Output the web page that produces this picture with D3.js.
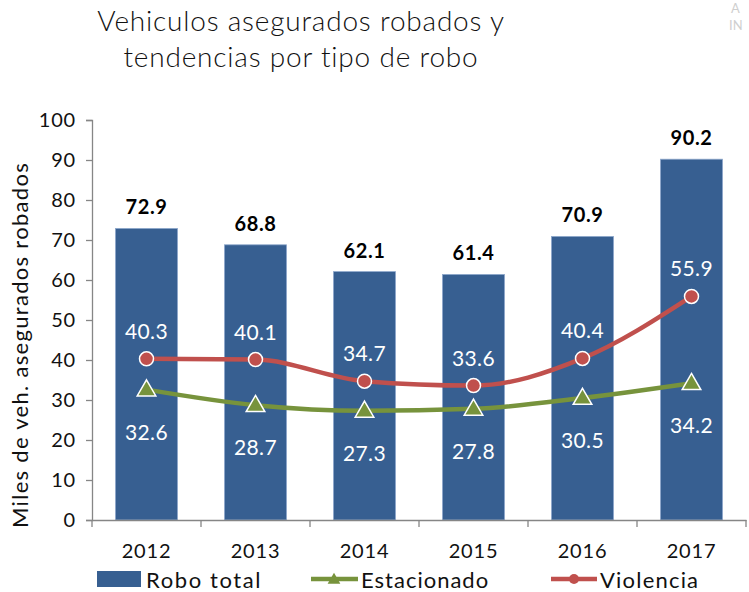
<!DOCTYPE html>
<html><head><meta charset="utf-8">
<script src="https://cdn.jsdelivr.net/npm/d3@7"></script>
<style>
html,body{margin:0;padding:0;background:#fff;overflow:hidden;}
svg text{font-family:"Lato","Noto Sans",sans-serif;}
</style></head>
<body><svg id="c" width="749" height="592"></svg>
<script>
const years = ["2012","2013","2014","2015","2016","2017"];
const roboTotal = [72.9, 68.8, 62.1, 61.4, 70.9, 90.2];
const estacionado = [32.6, 28.7, 27.3, 27.8, 30.5, 34.2];
const violencia = [40.3, 40.1, 34.7, 33.6, 40.4, 55.9];
const yTicks = [0,10,20,30,40,50,60,70,80,90,100];
const titleLines = ["Vehiculos asegurados robados y", "tendencias por tipo de robo"];
const yTitle = "Miles de veh. asegurados robados";
const legendNames = ["Robo total", "Estacionado", "Violencia"];

const C = {bar:"#375F91", green:"#77933C", red:"#C0504D", axis:"#868686"};
const svg = d3.select("#c");
const m = {left:92, right:746, top:120, bottom:520};
const x = d3.scaleBand().domain(years).range([m.left, m.right]).paddingInner(0.43).paddingOuter(0.215);
const xc = d => x(d) + x.bandwidth()/2;
const y = d3.scaleLinear().domain([0,100]).range([m.bottom, m.top]);

// title
svg.append("g").selectAll("text").data(titleLines).join("text")
  .attr("x", 301).attr("y", (d,i)=>31+i*36).attr("text-anchor","middle")
  .attr("font-size",28).attr("font-weight",300).attr("letter-spacing",0.8).attr("fill","#111").text(d=>d);

// faint text top-right
svg.append("text").attr("x",731).attr("y",13).attr("font-size",13).attr("fill","#cfcfcf").text("A");
svg.append("text").attr("x",729).attr("y",30).attr("font-size",13).attr("fill","#cfcfcf").text("IN");

// bars
svg.append("g").selectAll("rect").data(roboTotal).join("rect")
  .attr("x",(d,i)=>x(years[i])).attr("width",x.bandwidth())
  .attr("y",d=>y(d)).attr("height",d=>y(0)-y(d))
  .attr("fill",C.bar).attr("stroke","#8fa9cc").attr("stroke-width",0.8);

// y axis
const ya = svg.append("g").attr("transform",`translate(${m.left},0)`)
  .call(d3.axisLeft(y).tickValues(yTicks).tickSize(6).tickPadding(10));
ya.select(".domain").attr("stroke",C.axis).attr("stroke-width",1.3);
ya.selectAll(".tick line").attr("stroke",C.axis).attr("stroke-width",1.3);
ya.selectAll(".tick text").attr("font-size",20).attr("letter-spacing",0.8).attr("fill","#111").attr("font-family","Lato, sans-serif");

// x axis
const xa = svg.append("g").attr("transform",`translate(0,${m.bottom})`)
  .call(d3.axisBottom(x).tickSize(0).tickPadding(24));
xa.select(".domain").attr("stroke",C.axis).attr("stroke-width",1.3);
xa.selectAll(".tick text").attr("font-size",20).attr("letter-spacing",0.8).attr("fill","#111").attr("font-family","Lato, sans-serif");
const bounds = years.map(d=>x(d)-x.step()*x.paddingInner()/2).concat([m.right]);
bounds[0] = m.left;
svg.append("g").selectAll("line").data(bounds).join("line")
  .attr("x1",d=>d).attr("x2",d=>d).attr("y1",m.bottom).attr("y2",m.bottom+7)
  .attr("stroke",C.axis).attr("stroke-width",1.3);

// y axis title
svg.append("text").attr("transform","translate(28,345) rotate(-90)")
  .attr("text-anchor","middle").attr("font-size",22).attr("letter-spacing",1.3).attr("fill","#111").text(yTitle);

// lines
const line = d3.line().x((d,i)=>xc(years[i])).y(d=>y(d)).curve(d3.curveMonotoneX);
svg.append("path").datum(estacionado).attr("d",line).attr("fill","none")
  .attr("stroke",C.green).attr("stroke-width",4.5).attr("stroke-linecap","round");
svg.append("path").datum(violencia).attr("d",line).attr("fill","none")
  .attr("stroke",C.red).attr("stroke-width",4.5).attr("stroke-linecap","round");

const tri = d3.symbol().type(d3.symbolTriangle).size(150);
svg.append("g").selectAll("path").data(estacionado).join("path")
  .attr("d",tri).attr("transform",(d,i)=>`translate(${xc(years[i])},${y(d)+1})`)
  .attr("fill",C.green).attr("stroke","#fff").attr("stroke-width",1.5);
svg.append("g").selectAll("circle").data(violencia).join("circle")
  .attr("cx",(d,i)=>xc(years[i])).attr("cy",d=>y(d)).attr("r",7)
  .attr("fill",C.red).attr("stroke","#fff").attr("stroke-width",1.5);

// labels
svg.append("g").selectAll("text").data(roboTotal).join("text")
  .attr("x",(d,i)=>xc(years[i])).attr("y",d=>y(d)-14).attr("text-anchor","middle")
  .attr("font-size",20).attr("font-weight",700).attr("letter-spacing",0.6).attr("fill","#000").text(d=>d.toFixed(1));
svg.append("g").selectAll("text").data(violencia).join("text")
  .attr("x",(d,i)=>xc(years[i])).attr("y",d=>y(d)-20).attr("text-anchor","middle")
  .attr("font-size",21).attr("letter-spacing",0.4).attr("fill","#fff").text(d=>d.toFixed(1));
svg.append("g").selectAll("text").data(estacionado).join("text")
  .attr("x",(d,i)=>xc(years[i])).attr("y",d=>y(d)+50).attr("text-anchor","middle")
  .attr("font-size",21).attr("letter-spacing",0.4).attr("fill","#fff").text(d=>d.toFixed(1));

// legend
const lg = svg.append("g");
lg.append("rect").attr("x",97).attr("y",571).attr("width",44).attr("height",16).attr("fill",C.bar);
lg.append("text").attr("x",146).attr("y",588).attr("font-size",22).attr("letter-spacing",1.6).attr("fill","#111").text(legendNames[0]);
lg.append("line").attr("x1",311).attr("x2",358).attr("y1",579).attr("y2",579).attr("stroke",C.green).attr("stroke-width",4.5);
lg.append("path").attr("d",d3.symbol().type(d3.symbolTriangle).size(70)).attr("transform","translate(334,580)").attr("fill",C.green);
lg.append("text").attr("x",361).attr("y",588).attr("font-size",22).attr("letter-spacing",1.0).attr("fill","#111").text(legendNames[1]);
lg.append("line").attr("x1",551).attr("x2",597).attr("y1",579).attr("y2",579).attr("stroke",C.red).attr("stroke-width",4.5);
lg.append("circle").attr("cx",574).attr("cy",579).attr("r",5).attr("fill",C.red);
lg.append("text").attr("x",600).attr("y",588).attr("font-size",22).attr("letter-spacing",1.2).attr("fill","#111").text(legendNames[2]);
</script></body></html>
